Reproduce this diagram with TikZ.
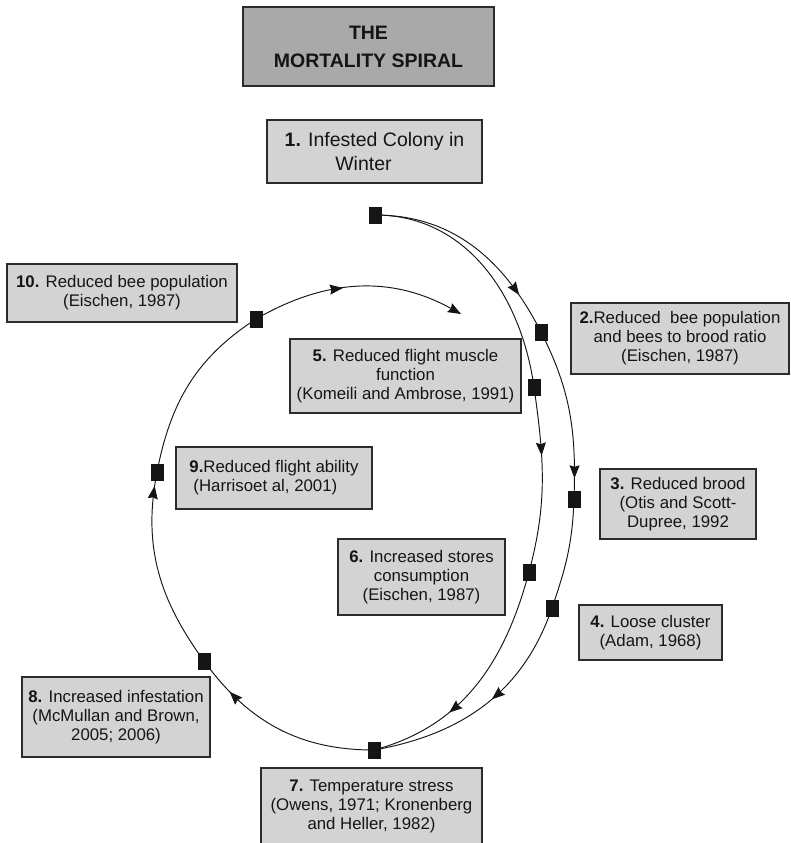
\documentclass[tikz,border=0pt]{standalone}
\usepackage{fontspec}
\setmainfont{Liberation Sans}
\usetikzlibrary{arrows.meta,decorations.markings}
\definecolor{titlegray}{HTML}{A9A9A9}
\definecolor{boxgray}{HTML}{D3D3D3}
\definecolor{edgegray}{HTML}{2B2B2B}
\definecolor{inkblack}{HTML}{151515}
\begin{document}
\begin{tikzpicture}[x=1pt,y=1pt,
  box/.style={draw=edgegray, line width=1.1pt, fill=boxgray, align=center, inner sep=0pt,
    font=\fontsize{16.8}{19}\selectfont, text=inkblack},
  sq/.style={fill=inkblack, minimum width=13pt, minimum height=17pt, inner sep=0pt, outer sep=0pt},
  conn/.style={line width=0.95pt, draw=inkblack},
  tip/.tip={Stealth[length=13pt,width=10pt,inset=1.5pt]},
  tipmark/.style={postaction={decorate}, decoration={markings,
    mark=at position #1 with {\arrow[inkblack]{tip}}}},
]
\useasboundingbox (0,0) rectangle (790,-843);

% boxes
\node[box, fill=titlegray, minimum width=251pt, minimum height=79pt,
      font=\bfseries\fontsize{19.5}{28}\selectfont] (title) at (368.5,-46.5) {THE\\MORTALITY SPIRAL};
\node[box, minimum width=215pt, minimum height=63pt, font=\fontsize{19.5}{24}\selectfont]
      (b1) at (374.5,-151.5) {\textbf{1.} Infested Colony in\\Winter\kern22pt};
\node[box, minimum width=230pt, minimum height=58pt] (b10) at (122,-293)
      {\textbf{10.} Reduced bee population\\(Eischen, 1987)};
\node[box, minimum width=218pt, minimum height=71pt] (b2) at (680,-338.5)
      {\textbf{2.}Reduced\ \ bee population\\and bees to brood ratio\\(Eischen, 1987)};
\node[box, minimum width=231pt, minimum height=74pt] (b5) at (405.5,-376)
      {\textbf{5.} Reduced flight muscle\\function\\(Komeili and Ambrose, 1991)};
\node[box, minimum width=196pt, minimum height=62pt, align=left] (b9) at (274,-478)
      {\textbf{9.}Reduced flight ability\\\hspace*{4pt}(Harrisoet al, 2001)};
\node[box, minimum width=156pt, minimum height=70pt] (b3) at (678,-504)
      {\textbf{3.} Reduced brood\\(Otis and Scott-\\Dupree, 1992};
\node[box, minimum width=167pt, minimum height=76pt] (b6) at (421.5,-577)
      {\textbf{6.} Increased stores\\consumption\\(Eischen, 1987)};
\node[box, minimum width=143pt, minimum height=55pt] (b4) at (650.5,-632.5)
      {\textbf{4.} Loose cluster\\(Adam, 1968)};
\node[box, minimum width=188pt, minimum height=80pt] (b8) at (116,-717)
      {\textbf{8.} Increased infestation\\(McMullan and Brown,\\2005; 2006)};
\node[box, minimum width=221pt, minimum height=76pt] (b7) at (371.5,-806)
      {\textbf{7.} Temperature stress\\(Owens, 1971; Kronenberg\\and Heller, 1982)};

% junction squares
\node[sq] (S1) at (375,-215) {};
\node[sq] (S2) at (541,-332) {};
\node[sq] (S5) at (534,-387) {};
\node[sq] (S3) at (574,-499) {};
\node[sq] (S6) at (529,-572) {};
\node[sq] (S4) at (552,-608) {};
\node[sq] (S7) at (374,-750) {};
\node[sq] (S8) at (204,-661) {};
\node[sq] (S9) at (157,-472) {};
\node[sq] (S10) at (256,-319) {};
\coordinate (E) at (461,-314);

% outer right arc
\draw[conn, tipmark=0.8] (S1.center) to[out=0,in=117] (S2.center);
\draw[conn, tipmark=0.88] (S2.center) to[out=-63,in=88] (S3.center);
\draw[conn] (S3.center) to[out=-92,in=71] (S4.center);
\draw[conn, tipmark=0.46] (S4.center) to[out=-109,in=10] (S7.center);
% inner right arc
\draw[conn] (S1.center) to[out=0,in=98] (S5.center);
\draw[conn, tipmark=0.37] (S5.center) to[out=-82,in=75] (S6.center);
\draw[conn, tipmark=0.66] (S6.center) to[out=-105,in=15] (S7.center);
% left loop
\draw[conn, tipmark=0.8] (S7.center) to[out=180,in=-54] (S8.center);
\draw[conn, tipmark=0.93] (S8.center) to[out=126,in=-101] (S9.center);
\draw[conn] (S9.center) to[out=79,in=-147] (S10.center);
\draw[conn, tipmark=0.43, -tip] (S10.center) to[out=30,in=151] (E);

% squares on top
\foreach \s in {S1,S2,S3,S4,S5,S6,S7,S8,S9,S10}
  \fill[inkblack] (\s.south west) rectangle (\s.north east);
\end{tikzpicture}
\end{document}
